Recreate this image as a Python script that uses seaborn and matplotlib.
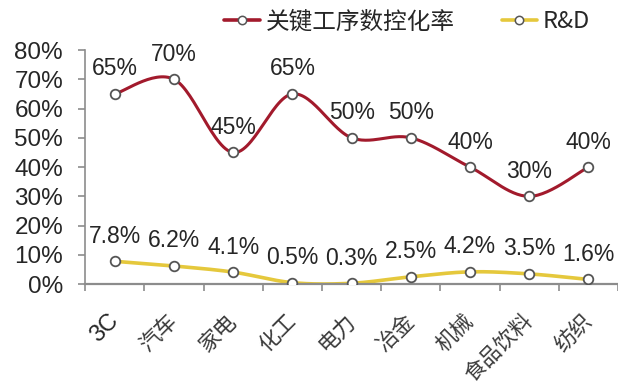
import numpy as np
import pandas as pd
import matplotlib
matplotlib.use("Agg")
import matplotlib.pyplot as plt
from matplotlib.lines import Line2D
from matplotlib.ticker import PercentFormatter
import seaborn as sns

# Industry categories and the two series
categories = ["3C", "汽车", "家电", "化工", "电力", "冶金", "机械", "食品饮料", "纺织"]
nc_rate = [0.65, 0.70, 0.45, 0.65, 0.50, 0.50, 0.40, 0.30, 0.40]
rd_rate = [0.078, 0.062, 0.041, 0.005, 0.003, 0.025, 0.042, 0.035, 0.016]
series_names = ["关键工序数控化率", "R&D"]
y_ticks = [0.0, 0.1, 0.2, 0.3, 0.4, 0.5, 0.6, 0.7, 0.8]

RED = "#A21A2C"
YELLOW = "#E5C83C"
TEXT = "#262626"
AXIS = "#8C8C8C"
LATIN = ["Liberation Sans", "DejaVu Sans"]
CJK = ["Noto Sans CJK SC", "DejaVu Sans"]

sns.set_theme(style="white")
plt.rcParams["font.family"] = ["Liberation Sans", "Noto Sans CJK SC", "DejaVu Sans"]


def smooth_curve(values, steps=30):
    """Bezier smoothing through every point (spreadsheet-style smoothed line)."""
    pts = np.column_stack([np.arange(len(values), dtype=float), np.asarray(values, float)])
    xs, ys = [], []
    n = len(pts)
    for i in range(n - 1):
        p0 = pts[max(i - 1, 0)]
        p1 = pts[i]
        p2 = pts[i + 1]
        p3 = pts[min(i + 2, n - 1)]
        c1 = p1 + (p2 - p0) / 6.0
        c2 = p2 - (p3 - p1) / 6.0
        t = np.linspace(0, 1, steps, endpoint=(i == n - 2))[:, None]
        seg = ((1 - t) ** 3) * p1 + 3 * ((1 - t) ** 2) * t * c1 + 3 * (1 - t) * t ** 2 * c2 + t ** 3 * p2
        xs.append(seg[:, 0])
        ys.append(seg[:, 1])
    return np.concatenate(xs), np.concatenate(ys)


fig = plt.figure(figsize=(6.18, 3.85), dpi=100)
ax = fig.add_axes([0.138, 0.262, 0.862, 0.608])

for vals, color, lw in [(nc_rate, RED, 2.2), (rd_rate, YELLOW, 2.6)]:
    sx, sy = smooth_curve(vals)
    sns.lineplot(x=sx, y=sy, ax=ax, color=color, linewidth=lw, sort=False,
                 estimator=None, legend=False, zorder=2)
    pts = pd.DataFrame({"x": np.arange(len(vals)), "y": vals})
    sns.scatterplot(data=pts, x="x", y="y", ax=ax, s=48, color="white",
                    edgecolor="#555555", linewidth=1.3, legend=False, zorder=3)

# Value labels above each point
for i, v in enumerate(nc_rate):
    ax.annotate(f"{v:.0%}", (i, v), xytext=(0, 18), textcoords="offset points",
                ha="center", va="center", fontsize=16.5, color=TEXT, family=LATIN)
for i, v in enumerate(rd_rate):
    ax.annotate(f"{v:.1%}", (i, v), xytext=(0, 18), textcoords="offset points",
                ha="center", va="center", fontsize=16.5, color=TEXT, family=LATIN)

ax.set_xlim(-0.5, len(categories) - 0.5)
ax.set_ylim(0, 0.8)
ax.set_yticks(y_ticks)
ax.yaxis.set_major_formatter(PercentFormatter(1.0, decimals=0))
ax.set_xlabel("")
ax.set_ylabel("")

for s in ("top", "right"):
    ax.spines[s].set_visible(False)
ax.spines["left"].set_color(AXIS)
ax.spines["left"].set_linewidth(1.2)
ax.spines["bottom"].set_color(AXIS)
ax.spines["bottom"].set_linewidth(1.6)

ax.tick_params(axis="y", direction="out", length=5, width=1.2, color=AXIS,
               pad=11, labelsize=17.5, labelcolor=TEXT, left=True)
for lab in ax.get_yticklabels():
    lab.set_family(LATIN)

# Category labels at the centres, short ticks at the boundaries
ax.set_xticks(np.arange(len(categories)))
ax.set_xticklabels(categories)
ax.set_xticks(np.arange(-0.5, len(categories)), minor=True)
ax.tick_params(axis="x", which="major", length=0, pad=24, bottom=True)
ax.tick_params(axis="x", which="minor", direction="out", length=5, width=1.2,
               color=AXIS, bottom=True)
for lab in ax.get_xticklabels():
    lab.set_rotation(45)
    lab.set_rotation_mode("anchor")
    lab.set_ha("right")
    lab.set_va("center")
    if lab.get_text() == "3C":
        lab.set_family(LATIN)
        lab.set_fontsize(17)
        lab.set_color(TEXT)
    else:
        lab.set_family(CJK)
        lab.set_fontsize(15.5)
        lab.set_color("#3A3A3A")

handles = [
    Line2D([], [], color=RED, lw=2.6, marker="o", markersize=6, markerfacecolor="white",
           markeredgecolor="#555555", markeredgewidth=1.1),
    Line2D([], [], color=YELLOW, lw=2.6, marker="o", markersize=6, markerfacecolor="white",
           markeredgecolor="#555555", markeredgewidth=1.1),
]
leg = fig.legend(handles, series_names, loc="center", bbox_to_anchor=(0.659, 0.943),
                 ncol=2, frameon=False, handlelength=1.5,
                 handletextpad=0.25, columnspacing=2.0, prop={"family": CJK, "size": 17})
for t in leg.get_texts():
    t.set_color(TEXT)

fig.savefig("out.png", dpi=100, facecolor="white")
